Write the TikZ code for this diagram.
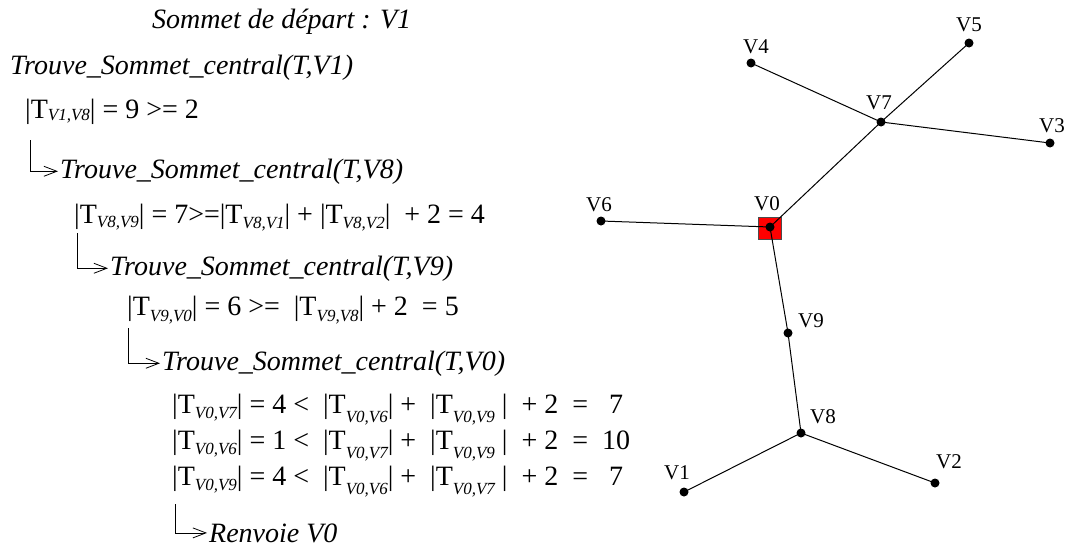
\documentclass[tikz,border=0pt]{standalone}
\usepackage{fontspec}
\setmainfont{Liberation Serif}
\newfontfamily\tms{Liberation Serif}
\usetikzlibrary{arrows.meta}
\newcommand\Ts[2][5]{T\raisebox{-#1pt}{\fontsize{17}{17}\selectfont\itshape #2}}
\begin{document}
\begin{tikzpicture}[x=1pt,y=-1pt,
  ttl/.style={anchor=base west,inner sep=0pt,font=\tms\fontsize{28}{30}\selectfont\itshape},
  eq/.style={anchor=base west,inner sep=0pt,font=\tms\fontsize{28}{30}\selectfont},
  lab/.style={inner sep=0pt,font=\tms\fontsize{21}{21}\selectfont},
  vert/.style={circle,fill=black,inner sep=0pt,minimum size=9pt},
  edge/.style={line width=1pt},
  call/.style={line width=0.8pt,shorten >=2pt,-{Straight Barb[length=13pt,width=10pt,line width=0.8pt]}}
]
\useasboundingbox (0,0) rectangle (1065,552);
\fill[white] (0,0) rectangle (1065,552);

% ---- text column ----
\node[ttl] (start) at (152,28) {Sommet de départ : V1};
\node[ttl] (t1) at (10,74) {Trouve\_Sommet\_central(T,V1)};
\node[eq] (e1) at (25,118) {|\Ts[2]{V1,V8}| = 9 >= 2};
\node[ttl] (t2) at (60,178) {Trouve\_Sommet\_central(T,V8)};
\node[eq] (e2) at (74,223) {|\Ts[4]{V8,V9}| = 7>=|\Ts[5]{V8,V1}| + |\Ts[5]{V8,V2}|\ \ + 2 = 4};
\node[ttl] (t3) at (110,275) {Trouve\_Sommet\_central(T,V9)};
\node[eq] (e3) at (127,315) {|\Ts[6]{V9,V0}| = 6 >=\ \ |\Ts[6]{V9,V8}| + 2\ \ = 5};
\node[ttl] (t4) at (162,370) {Trouve\_Sommet\_central(T,V0)};
\node[eq] (e4) at (172,413) {|\Ts[5]{V0,V7}| = 4 <\ \ |\Ts[9]{V0,V6}| +\ \ |\Ts[9]{V0,V9}\ |\ \ + 2\ \ =\ \ \ 7};
\node[eq] (e5) at (172,449) {|\Ts[5]{V0,V6}| = 1 <\ \ |\Ts[9]{V0,V7}| +\ \ |\Ts[9]{V0,V9}\ |\ \ + 2\ \ =\ \ 10};
\node[eq] (e6) at (172,485) {|\Ts[5]{V0,V9}| = 4 <\ \ |\Ts[9]{V0,V6}| +\ \ |\Ts[9]{V0,V7}\ |\ \ + 2\ \ =\ \ \ 7};
\node[ttl] (r) at (209,542) {Renvoie V0};

\coordinate (a1) at (30,140);
\coordinate (a2) at (77,233);
\coordinate (a3) at (128,328);
\coordinate (a4) at (175,504);
\draw[call] (a1) |- (t2.west);
\draw[call] (a2) |- (t3.west);
\draw[call] (a3) |- (t4.west);
\draw[call] (a4) |- (r.west);

% ---- tree ----
\fill[red,draw=black!70,line width=0.6pt] (758,217) rectangle (781,239);
\node[vert] (V0) at (770,227) {};
\node[vert] (V1) at (684,492) {};
\node[vert] (V2) at (935,483) {};
\node[vert] (V3) at (1050,143) {};
\node[vert] (V4) at (751,63) {};
\node[vert] (V5) at (969,43) {};
\node[vert] (V6) at (601,221) {};
\node[vert] (V7) at (881,122) {};
\node[vert] (V8) at (801,433) {};
\node[vert] (V9) at (788,333) {};

\draw[edge] (V4.center) -- (V7.center);
\draw[edge] (V5.center) -- (V7.center);
\draw[edge] (V3.center) -- (V7.center);
\draw[edge] (V7.center) -- (V0.center);
\draw[edge] (V6.center) -- (V0.center);
\draw[edge] (V0.center) -- (V9.center);
\draw[edge] (V9.center) -- (V8.center);
\draw[edge] (V8.center) -- (V1.center);
\draw[edge] (V8.center) -- (V2.center);

\node[lab] (lV0) at (767,204) {V0};
\node[lab] (lV1) at (677,473) {V1};
\node[lab] (lV2) at (949,462) {V2};
\node[lab] (lV3) at (1052,126) {V3};
\node[lab] (lV4) at (756,47) {V4};
\node[lab] (lV5) at (969,25) {V5};
\node[lab] (lV6) at (599,205) {V6};
\node[lab] (lV7) at (879,103) {V7};
\node[lab] (lV8) at (823,417) {V8};
\node[lab] (lV9) at (811,321) {V9};
\end{tikzpicture}
\end{document}
